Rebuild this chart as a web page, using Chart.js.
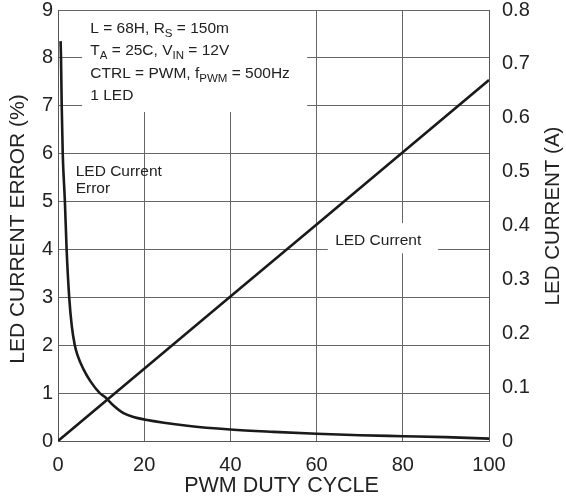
<!DOCTYPE html>
<html>
<head>
<meta charset="utf-8">
<script src="https://cdn.jsdelivr.net/npm/chart.js@4"></script>
<style>
  body { margin: 0; background: #fff; }
  #wrap { width: 566px; height: 500px; }
</style>
</head>
<body>
<div id="wrap"><canvas id="myChart" width="566" height="500"></canvas></div>
<script>
// duty cycle (%) vs LED current error (%)
var errorX = [0.6, 0.7, 0.86, 1.1, 1.6, 2.0, 2.6, 3.2, 3.9, 4.5, 5.9, 7.5, 9.7, 10.9, 13, 15.2, 17.5, 20, 30, 40, 50, 60, 70, 80, 90, 100];
var errorY = [8.35, 8.0, 7.0, 6.0, 5.0, 4.0, 3.0, 2.4, 2.0, 1.8, 1.5, 1.25, 1.0, 0.92, 0.73, 0.58, 0.5, 0.45, 0.32, 0.24, 0.19, 0.15, 0.12, 0.1, 0.08, 0.05];
// duty cycle (%) vs LED current (A)
var currentX = [0, 20, 40, 60, 80, 100];
var currentY = [0, 0.134, 0.268, 0.402, 0.536, 0.67];
var leftTicks = [0, 1, 2, 3, 4, 5, 6, 7, 8, 9];
var rightTicks = [0, 0.1, 0.2, 0.3, 0.4, 0.5, 0.6, 0.7, 0.8];
var xTicks = [0, 20, 40, 60, 80, 100];

var FONT = "'Liberation Sans', Arial, sans-serif";
var INK = '#222';

function toPoints(xs, ys) {
  return xs.map(function (x, i) { return { x: x, y: ys[i] }; });
}

// text with subscripts: each line is a list of [text, isSub]
var conditions = [
  [['L = 68H, R', false], ['S', true], [' = 150m', false]],
  [['T', false], ['A', true], [' = 25C, V', false], ['IN', true], [' = 12V', false]],
  [['CTRL = PWM, f', false], ['PWM', true], [' = 500Hz', false]],
  [['1 LED', false]],
];

function drawRich(ctx, parts, x, y) {
  parts.forEach(function (p) {
    ctx.font = (p[1] ? '11.5px ' : '15.5px ') + FONT;
    ctx.fillText(p[0], x, p[1] ? y + 4 : y);
    x += ctx.measureText(p[0]).width;
  });
}

function rotatedText(ctx, text, x, y, angle) {
  ctx.save();
  ctx.translate(x, y);
  ctx.rotate(angle);
  ctx.fillText(text, 0, 0);
  ctx.restore();
}

function fixWidth(w) {
  return function (s) {
    s.width = w;
    s.paddingTop = 0;
    s.paddingBottom = 0;
  };
}

var labelsPlugin = {
  id: 'labels',
  beforeDatasetsDraw: function (chart) {
    var ctx = chart.ctx;
    var xs = chart.scales.x, ys = chart.scales.y;
    ctx.save();
    // white boxes behind the notes hide the grid
    ctx.fillStyle = '#fff';
    var bx = xs.getPixelForValue(5.6);
    ctx.fillRect(bx, ys.top + 1, xs.getPixelForValue(57.8) - bx, ys.getPixelForValue(6.87) - ys.top - 1);
    var lx = xs.getPixelForValue(62.6), ly = ys.getPixelForValue(4.55);
    ctx.fillRect(lx, ly, xs.getPixelForValue(88.2) - lx, ys.getPixelForValue(3.92) - ly);

    ctx.fillStyle = INK;
    ctx.textBaseline = 'alphabetic';
    ctx.textAlign = 'left';
    var tx = xs.getPixelForValue(7.5);
    conditions.forEach(function (line, i) {
      drawRich(ctx, line, tx, ys.top + 23 + i * 22.3);
    });
    ctx.font = '15.5px ' + FONT;
    ctx.fillText('LED Current', xs.getPixelForValue(4.1), ys.getPixelForValue(5.53));
    ctx.fillText('Error', xs.getPixelForValue(4.1), ys.getPixelForValue(5.18));
    ctx.fillText('LED Current', xs.getPixelForValue(64.3), ys.getPixelForValue(4.09));
    ctx.restore();
  },
  afterDraw: function (chart) {
    var ctx = chart.ctx;
    var area = chart.chartArea;
    ctx.save();
    ctx.fillStyle = INK;
    ctx.textAlign = 'center';
    ctx.textBaseline = 'middle';
    ctx.font = '21px ' + FONT;
    rotatedText(ctx, 'LED CURRENT ERROR (%)', 18, 229, -Math.PI / 2);
    ctx.font = '20.5px ' + FONT;
    rotatedText(ctx, 'LED CURRENT (A)', 553, 216, -Math.PI / 2);
    ctx.font = '21.5px ' + FONT;
    ctx.fillText('PWM DUTY CYCLE', (area.left + area.right) / 2 + 8, 486);
    ctx.restore();
  },
};

new Chart('myChart', {
  type: 'scatter',
  data: {
    datasets: [
      {
        label: 'LED Current Error',
        data: toPoints(errorX, errorY),
        yAxisID: 'y',
        showLine: true,
        borderColor: '#1a1a1a',
        borderWidth: 2.6,
        pointRadius: 0,
        cubicInterpolationMode: 'monotone',
      },
      {
        label: 'LED Current',
        data: toPoints(currentX, currentY),
        yAxisID: 'y1',
        showLine: true,
        borderColor: '#1a1a1a',
        borderWidth: 2.6,
        pointRadius: 0,
      },
    ],
  },
  options: {
    responsive: false,
    animation: false,
    layout: { padding: { top: 10 } },
    plugins: { legend: { display: false }, tooltip: { enabled: false } },
    scales: {
      x: {
        type: 'linear',
        min: 0,
        max: 100,
        afterBuildTicks: function (s) { s.ticks = xTicks.map(function (v) { return { value: v }; }); },
        afterFit: function (s) { s.height = 59; },
        grid: { color: '#666', lineWidth: 1, drawTicks: false },
        border: { color: '#555' },
        ticks: { color: INK, font: { family: FONT, size: 20 }, padding: 12, maxRotation: 0 },
      },
      y: {
        position: 'left',
        min: 0,
        max: 9,
        afterBuildTicks: function (s) { s.ticks = leftTicks.map(function (v) { return { value: v }; }); },
        afterFit: fixWidth(58),
        grid: { color: '#666', lineWidth: 1, drawTicks: false },
        border: { color: '#555' },
        ticks: { color: INK, font: { family: FONT, size: 20 }, padding: 5 },
      },
      y1: {
        position: 'right',
        min: 0,
        max: 0.8,
        afterBuildTicks: function (s) { s.ticks = rightTicks.map(function (v) { return { value: v }; }); },
        afterFit: fixWidth(77),
        grid: { display: false, drawTicks: false },
        border: { color: '#555' },
        ticks: { color: INK, font: { family: FONT, size: 20 }, padding: 13 },
      },
    },
  },
  plugins: [labelsPlugin],
});
</script>
</body>
</html>
